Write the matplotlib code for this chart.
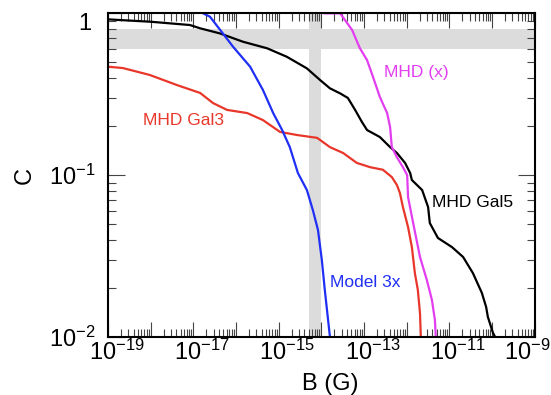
import numpy as np
import matplotlib
matplotlib.use("Agg")
import matplotlib.pyplot as plt
import matplotlib.transforms as mtransforms
from matplotlib.ticker import FixedLocator, LogLocator, NullFormatter, FuncFormatter

plt.rcParams['font.family'] = ['Liberation Sans', 'DejaVu Sans']
plt.rcParams['mathtext.default'] = 'regular'

# curves: log10(B) and C
gal5_logB = [-19.00, -17.99, -17.08, -16.84, -16.38, -15.84, -15.27, -14.81, -14.34, -14.03,
             -13.80, -13.56, -13.38, -13.21, -13.05, -12.93, -12.63, -12.39, -12.23, -12.04,
             -11.92, -11.88, -11.64, -11.50, -11.46, -11.27, -10.94, -10.68, -10.45, -10.24,
             -10.14, -10.10, -9.98, -9.93]
gal5_C = [0.918, 0.887, 0.847, 0.808, 0.752, 0.668, 0.608, 0.539, 0.457, 0.387,
          0.344, 0.320, 0.300, 0.253, 0.213, 0.190, 0.172, 0.149, 0.137, 0.119,
          0.103, 0.0933, 0.0809, 0.0635, 0.0506, 0.0409, 0.0359, 0.0312, 0.0248, 0.0187,
          0.0153, 0.0133, 0.0106, 0.0100]

gal3_logB = [-19.00, -18.65, -18.02, -17.38, -16.84, -16.54, -16.21, -15.74, -15.37, -14.97,
             -14.57, -14.10, -13.80, -13.49, -13.17, -12.86, -12.56, -12.35, -12.23, -12.16,
             -12.09, -11.97, -11.88, -11.81, -11.74, -11.69, -11.67]
gal3_C = [0.468, 0.459, 0.416, 0.360, 0.322, 0.279, 0.253, 0.242, 0.219, 0.185,
          0.177, 0.170, 0.149, 0.137, 0.119, 0.112, 0.108, 0.0973, 0.0868, 0.0775,
          0.0635, 0.0478, 0.0359, 0.0248, 0.0195, 0.0140, 0.0100]

m3x_logB = [-16.77, -16.61, -16.31, -16.07, -15.67, -15.37, -15.13, -14.92, -14.74, -14.55,
            -14.34, -14.20, -14.08, -13.99, -13.92, -13.80]
m3x_C = [1.0, 0.953, 0.752, 0.622, 0.468, 0.336, 0.242, 0.190, 0.149, 0.103,
         0.0809, 0.0608, 0.0458, 0.0299, 0.0195, 0.0100]

mhdx_logB = [-13.92, -13.56, -13.28, -13.10, -12.93, -12.79, -12.63, -12.46, -12.39, -12.35,
             -12.23, -12.09, -11.99, -11.97, -11.85, -11.69, -11.53, -11.41, -11.34, -11.32]
mhdx_C = [1.0, 1.0, 0.789, 0.610, 0.514, 0.404, 0.304, 0.242, 0.198, 0.149,
          0.129, 0.112, 0.100, 0.0732, 0.0506, 0.0312, 0.0225, 0.0169, 0.0127, 0.0100]

band_C = (0.6, 0.8)
band_B = (5e-15, 1e-14)

fig = plt.figure(figsize=(5.51, 3.95), dpi=100)
ax = fig.add_axes([0.196, 0.147, 0.7746, 0.8192])

ax.axhspan(*band_C, color='#dcdcdc', lw=0, zorder=0)
ax.axvspan(*band_B, color='#dcdcdc', lw=0, zorder=0)

ax.plot(10**np.array(gal5_logB), gal5_C, color='black', lw=1.6)
ax.plot(10**np.array(gal3_logB), gal3_C, color='#e8372a', lw=1.6)
ax.plot(10**np.array(m3x_logB), m3x_C, color='#1f2ff5', lw=1.6)
ax.plot(10**np.array(mhdx_logB), mhdx_C, color='#e23ef0', lw=1.6)

ax.text(10**-17.24, 0.219, 'MHD Gal3', color='#e8372a', fontsize=12.5, ha='center', va='center')
ax.text(10**-11.78, 0.434, 'MHD (x)', color='#e23ef0', fontsize=12.5, ha='center', va='center')
ax.text(10**-10.45, 0.0673, 'MHD Gal5', color='black', fontsize=12.5, ha='center', va='center')
ax.text(10**-12.98, 0.0216, 'Model 3x', color='#1f2ff5', fontsize=12.5, ha='center', va='center')

ax.set_xscale('log')
ax.set_yscale('log')
ax.set_xlim(1e-19, 1e-9)
ax.set_ylim(0.01, 1)


def xfmt(v, pos):
    e = int(round(np.log10(v)))
    return '$10^{%d}$' % e if e % 2 else ''


def yfmt(v, pos):
    e = int(round(np.log10(v)))
    return '1' if e == 0 else '$10^{%d}$' % e


ax.xaxis.set_major_locator(FixedLocator(10.0**np.arange(-19, -8)))
ax.xaxis.set_minor_locator(LogLocator(base=10, subs=np.arange(2, 10), numticks=100))
ax.xaxis.set_major_formatter(FuncFormatter(xfmt))
ax.xaxis.set_minor_formatter(NullFormatter())
ax.yaxis.set_major_locator(FixedLocator([0.01, 0.1, 1]))
ax.yaxis.set_minor_locator(LogLocator(base=10, subs=np.arange(2, 10), numticks=100))
ax.yaxis.set_major_formatter(FuncFormatter(yfmt))
ax.yaxis.set_minor_formatter(NullFormatter())

ax.tick_params(which='both', direction='in', top=True, right=True, color='#444444', width=0.8)
ax.tick_params(axis='x', which='major', length=11, labelsize=17, pad=2)
ax.tick_params(axis='y', which='major', length=12, labelsize=17, pad=9)
ax.tick_params(which='minor', length=5.5)

for s in ax.spines.values():
    s.set_linewidth(1.5)

# labels sit on the "10", except the last one which is kept inside the figure
xlabels = ax.get_xticklabels()
for lbl in xlabels[:-1]:
    lbl.set_transform(lbl.get_transform() + mtransforms.ScaledTranslation(0.085, 0, fig.dpi_scale_trans))
xlabels[-1].set_transform(xlabels[-1].get_transform() + mtransforms.ScaledTranslation(-0.08, 0, fig.dpi_scale_trans))
top = ax.get_yticklabels()[-1]
top.set_transform(top.get_transform() + mtransforms.ScaledTranslation(-0.04, -0.08, fig.dpi_scale_trans))

ax.set_xlabel('B (G)', fontsize=17)
ax.set_ylabel('C', fontsize=17)
ax.xaxis.set_label_coords(0.52, -0.112)
ax.yaxis.set_label_coords(-0.17, 0.5)

fig.savefig('out.png', dpi=100)
